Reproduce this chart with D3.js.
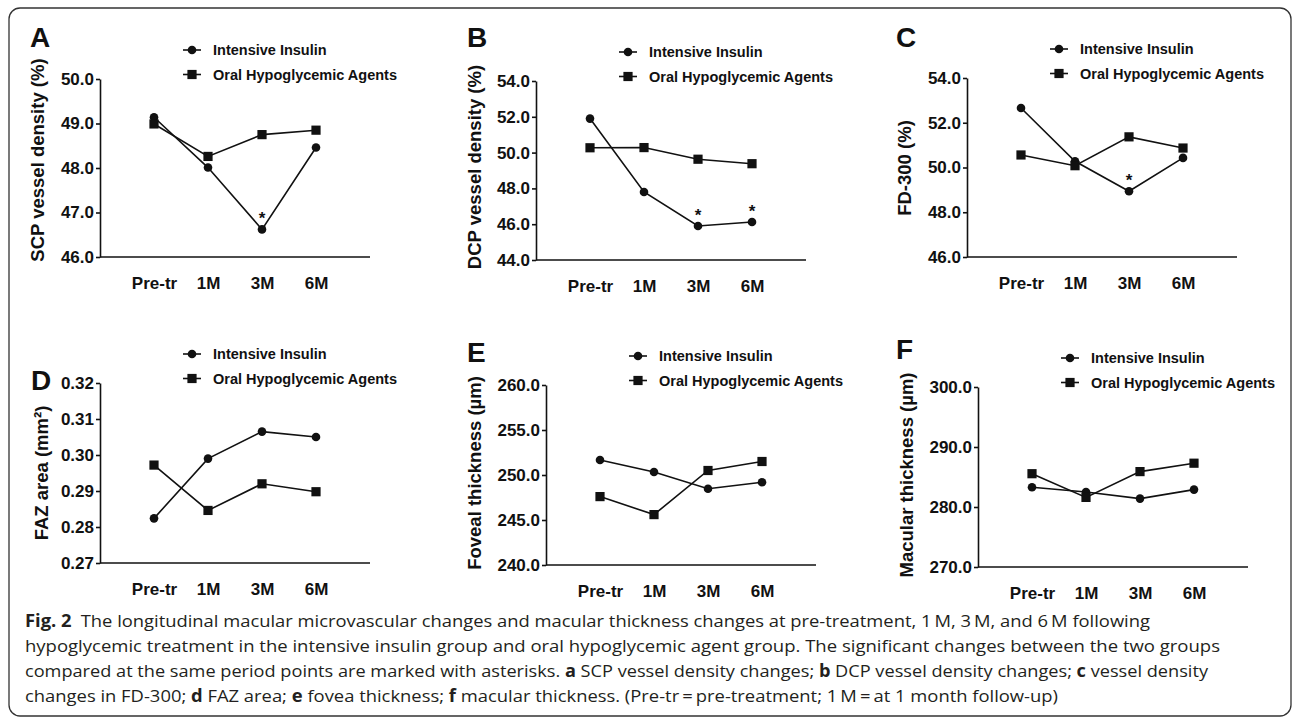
<!DOCTYPE html>
<html>
<head>
<meta charset="utf-8">
<script src="https://cdn.jsdelivr.net/npm/d3@7"></script>
<style>
  html, body { margin: 0; padding: 0; background: #fff; }
  svg { display: block; }
  .chart text { font-family: "Liberation Sans", Arial, sans-serif; font-weight: bold; fill: #111; }
  .caption { font-family: "Open Sans", "Noto Sans", sans-serif; fill: #231f20; }
</style>
</head>
<body>
<svg id="fig" width="1292" height="717"></svg>
<script>
// ---------------- data ----------------
const categories = ["Pre-tr", "1M", "3M", "6M"];
const seriesNames = ["Intensive Insulin", "Oral Hypoglycemic Agents"];

const scpInsulin = [49.14, 48.01, 46.62, 48.46];
const scpOral    = [48.99, 48.26, 48.75, 48.85];
const scpTicks   = [46, 47, 48, 49, 50];
const scpSig     = ["3M"];

const dcpInsulin = [51.9, 47.8, 45.9, 46.12];
const dcpOral    = [50.27, 50.28, 49.63, 49.38];
const dcpTicks   = [44, 46, 48, 50, 52, 54];
const dcpSig     = ["3M", "6M"];

const fdInsulin  = [52.66, 50.28, 48.94, 50.43];
const fdOral     = [50.56, 50.08, 51.37, 50.87];
const fdTicks    = [46, 48, 50, 52, 54];
const fdSig      = ["3M"];

const fazInsulin = [0.2824, 0.2990, 0.3065, 0.3050];
const fazOral    = [0.2972, 0.2846, 0.2920, 0.2898];
const fazTicks   = [0.27, 0.28, 0.29, 0.30, 0.31, 0.32];
const fazSig     = [];

const fovealInsulin = [251.67, 250.33, 248.48, 249.2];
const fovealOral    = [247.6, 245.6, 250.5, 251.5];
const fovealTicks   = [240, 245, 250, 255, 260];
const fovealSig     = [];

const macularInsulin = [283.3, 282.5, 281.4, 282.9];
const macularOral    = [285.55, 281.6, 285.9, 287.3];
const macularTicks   = [270, 280, 290, 300];
const macularSig     = [];

const panelLetters = ["A", "B", "C", "D", "E", "F"];
const yTitles = ["SCP vessel density (%)", "DCP vessel density (%)", "FD-300 (%)",
                 "FAZ area (mm\u00B2)", "Foveal thickness (\u00B5m)", "Macular thickness (\u00B5m)"];

// ---------------- layout ----------------
const panels = [
  { ins: scpInsulin, oral: scpOral, ticks: scpTicks, sig: scpSig, fmt: ".1f",
    x0: 100, top: 79, bottom: 257, letter: [30, 47], titleX: 38, titleY: 160 },
  { ins: dcpInsulin, oral: dcpOral, ticks: dcpTicks, sig: dcpSig, fmt: ".1f",
    x0: 536, top: 81, bottom: 260, letter: [467, 47], titleX: 475, titleY: 167 },
  { ins: fdInsulin, oral: fdOral, ticks: fdTicks, sig: fdSig, fmt: ".1f",
    x0: 967, top: 78, bottom: 257, letter: [896, 47], titleX: 905, titleY: 168 },
  { ins: fazInsulin, oral: fazOral, ticks: fazTicks, sig: fazSig, fmt: ".2f",
    x0: 100, top: 383, bottom: 563, letter: [31, 390], titleX: 42, titleY: 473 },
  { ins: fovealInsulin, oral: fovealOral, ticks: fovealTicks, sig: fovealSig, fmt: ".1f",
    x0: 546, top: 385, bottom: 565, letter: [467, 362], titleX: 475, titleY: 473 },
  { ins: macularInsulin, oral: macularOral, ticks: macularTicks, sig: macularSig, fmt: ".1f",
    x0: 978, top: 387, bottom: 567, letter: [896, 359], titleX: 907, titleY: 475 }
];

const svg = d3.select("#fig");
svg.append("rect").attr("width", 1292).attr("height", 717).attr("fill", "#fff");

// outer rounded frame
svg.append("rect")
  .attr("x", 9).attr("y", 8).attr("width", 1282).attr("height", 708)
  .attr("rx", 11).attr("ry", 11)
  .attr("fill", "none").attr("stroke", "#333").attr("stroke-width", 1.3);

const chart = svg.append("g").attr("class", "chart");
const INK = "#111";

panels.forEach((p, i) => {
  const g = chart.append("g");
  const x = d3.scalePoint().domain(categories).range([p.x0, p.x0 + 270]).padding(1);
  const y = d3.scaleLinear().domain([p.ticks[0], p.ticks[p.ticks.length - 1]]).range([p.bottom, p.top]);

  // y axis
  const ya = g.append("g").attr("transform", `translate(${p.x0},0)`)
    .call(d3.axisLeft(y).tickValues(p.ticks).tickFormat(d3.format(p.fmt)).tickSize(4).tickSizeOuter(0).tickPadding(2));
  ya.select(".domain").attr("stroke", INK).attr("stroke-width", 1.6);
  ya.selectAll(".tick line").attr("stroke", INK).attr("stroke-width", 1.6);
  ya.selectAll(".tick text").attr("font-size", 17).attr("fill", INK);

  // x axis
  const xa = g.append("g").attr("transform", `translate(0,${p.bottom})`)
    .call(d3.axisBottom(x).tickSize(0).tickSizeOuter(0).tickPadding(20));
  xa.select(".domain").attr("d", `M${p.x0},0H${p.x0 + 270}`).attr("stroke", INK).attr("stroke-width", 1.6);
  xa.selectAll(".tick text").attr("font-size", 17).attr("fill", INK);

  // y title
  g.append("text")
    .attr("transform", `translate(${p.titleX},${p.titleY}) rotate(-90)`)
    .attr("text-anchor", "middle").attr("dy", "0.35em")
    .attr("font-size", 18.5)
    .text(yTitles[i]);

  // panel letter
  g.append("text").attr("x", p.letter[0]).attr("y", p.letter[1])
    .attr("font-size", 28).text(panelLetters[i]);

  // lines + markers
  const line = d3.line().x((d, j) => x(categories[j])).y(d => y(d));
  [p.ins, p.oral].forEach((vals, s) => {
    g.append("path").datum(vals).attr("d", line)
      .attr("fill", "none").attr("stroke", INK).attr("stroke-width", 1.6);
    if (s === 0) {
      g.selectAll(null).data(vals).enter().append("circle")
        .attr("cx", (d, j) => x(categories[j])).attr("cy", d => y(d))
        .attr("r", 4.3).attr("fill", INK);
    } else {
      g.selectAll(null).data(vals).enter().append("rect")
        .attr("x", (d, j) => x(categories[j]) - 4.6).attr("y", d => y(d) - 4.6)
        .attr("width", 9.2).attr("height", 9.2).attr("fill", INK);
    }
  });

  // significance asterisks
  p.sig.forEach(c => {
    const j = categories.indexOf(c);
    g.append("text").attr("x", x(c)).attr("y", y(p.ins[j]) - 5)
      .attr("text-anchor", "middle").attr("font-size", 17).attr("font-weight", "normal").text("*");
  });

  // legend
  seriesNames.forEach((name, s) => {
    const ly = p.top - 29 + s * 24.5;
    const lg = g.append("g");
    lg.append("line").attr("x1", p.x0 + 83).attr("x2", p.x0 + 101)
      .attr("y1", ly).attr("y2", ly).attr("stroke", INK).attr("stroke-width", 1.6);
    if (s === 0) {
      lg.append("circle").attr("cx", p.x0 + 92).attr("cy", ly).attr("r", 4.3).attr("fill", INK);
    } else {
      lg.append("rect").attr("x", p.x0 + 92 - 4.6).attr("y", ly - 4.6)
        .attr("width", 9.2).attr("height", 9.2).attr("fill", INK);
    }
    lg.append("text").attr("x", p.x0 + 113).attr("y", ly).attr("dy", "0.36em")
      .attr("font-size", 14.5).text(name);
  });
});

// ---------------- caption ----------------
const captionLines = [
  { width: 1125, parts: [["Fig. 2", true], ["\u2002The longitudinal macular microvascular changes and macular thickness changes at pre-treatment, 1\u2009M, 3\u2009M, and 6\u2009M following", false]] },
  { width: 1195, parts: [["hypoglycemic treatment in the intensive insulin group and oral hypoglycemic agent group. The significant changes between the two groups", false]] },
  { width: 1183, parts: [["compared at the same period points are marked with asterisks. ", false], ["a", true], [" SCP vessel density changes; ", false], ["b", true], [" DCP vessel density changes; ", false], ["c", true], [" vessel density", false]] },
  { width: 1033, parts: [["changes in FD-300; ", false], ["d", true], [" FAZ area; ", false], ["e", true], [" fovea thickness; ", false], ["f", true], [" macular thickness. (Pre-tr\u2009=\u2009pre-treatment; 1\u2009M\u2009=\u2009at 1 month follow-up)", false]] }
];
const cap = svg.append("g").attr("class", "caption");
captionLines.forEach((ln, k) => {
  const t = cap.append("text").attr("x", 25).attr("y", 627 + k * 25)
    .attr("font-size", 17)
    .attr("textLength", ln.width).attr("lengthAdjust", "spacingAndGlyphs");
  ln.parts.forEach(([s, b]) => {
    t.append("tspan").attr("font-weight", b ? "bold" : "normal").text(s);
  });
});
</script>
</body>
</html>
